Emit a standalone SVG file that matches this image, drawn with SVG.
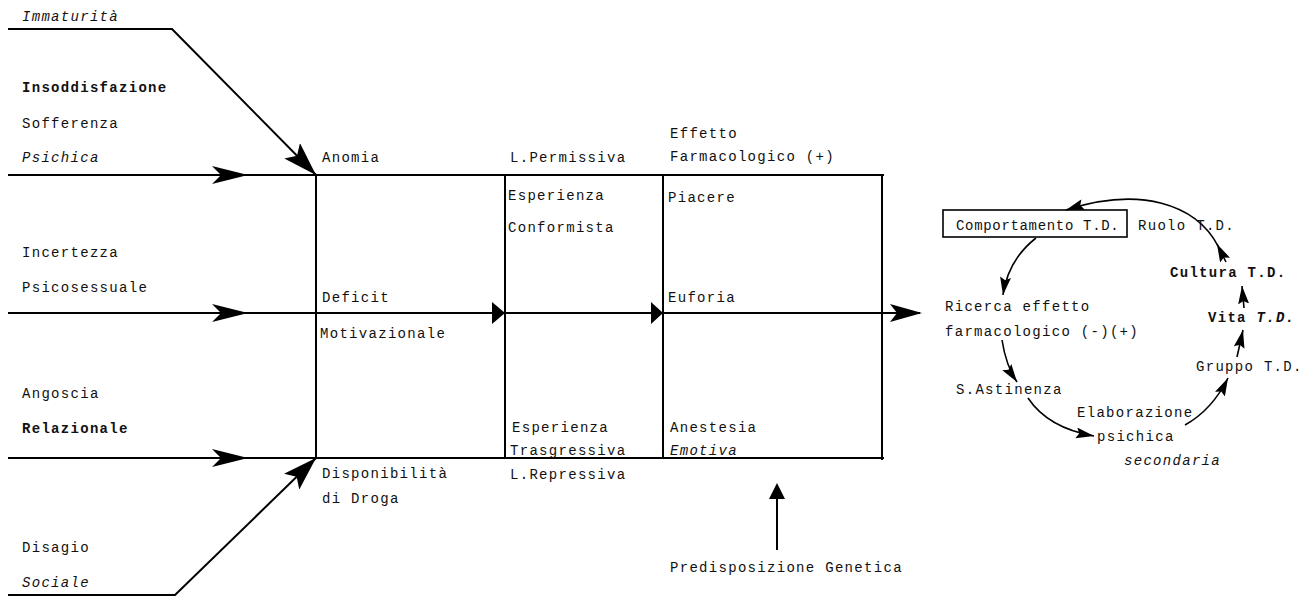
<svg xmlns="http://www.w3.org/2000/svg" width="1314" height="598" viewBox="0 0 1314 598">
<style>
text{font-family:"Liberation Mono","DejaVu Sans Mono",monospace;font-size:14px;letter-spacing:1.3px;fill:#111}
.b{font-weight:bold}
.i{font-style:italic}
.ln{fill:none;stroke:#000;stroke-width:2}
.lt{fill:none;stroke:#000;stroke-width:1.6}
.ah{fill:#000;stroke:none}
</style>
<defs>
<marker id="big" markerUnits="userSpaceOnUse" viewBox="0 0 34 22" refX="34" refY="11" markerWidth="34" markerHeight="22" orient="auto">
<path d="M0,0 L34,11 L0,22 L7,11 z" fill="#000"/>
</marker>
<marker id="sm" markerUnits="userSpaceOnUse" viewBox="0 0 18 11" refX="18" refY="5.5" markerWidth="18" markerHeight="11" orient="auto">
<path d="M0,0 L18,5.5 L0,11 L3,5.5 z" fill="#000"/>
</marker>
</defs>

<g id="connectors">
<polyline class="ln" points="8,29 172,29 316,175" marker-end="url(#big)"/>
<polyline class="ln" points="8,595 175,595 316,458" marker-end="url(#big)"/>
<line class="ln" x1="8" y1="175" x2="884" y2="175"/>
<line class="ln" x1="8" y1="313" x2="920" y2="313"/>
<line class="ln" x1="8" y1="458" x2="884" y2="458"/>
<line class="ln" x1="316" y1="175" x2="316" y2="458"/>
<line class="ln" x1="505" y1="176" x2="505" y2="458"/>
<line class="ln" x1="663" y1="176" x2="663" y2="459"/>
<line class="ln" x1="882" y1="176" x2="882" y2="460"/>
<path class="ah" d="M212,166 L248,175 L212,184 L221,175 z"/>
<path class="ah" d="M212,304 L248,313 L212,322 L221,313 z"/>
<path class="ah" d="M212,449 L248,458 L212,467 L221,458 z"/>
<path class="ah" d="M492,302 L505,313 L492,324 z"/>
<path class="ah" d="M651,302 L663,313 L651,324 z"/>
<path class="ah" d="M890,304 L922,313 L890,322 L897,313 z"/>
<line class="ln" x1="777" y1="550" x2="777" y2="496"/>
<path class="ah" d="M769,499 L777,483 L785,499 z"/>
<path class="lt" d="M1036,238 Q1008,260 1003,295" marker-end="url(#sm)"/>
<path class="lt" d="M1002,340 Q1006,366 1017,382" marker-end="url(#sm)"/>
<path class="lt" d="M1028,398 Q1048,428 1094,436" marker-end="url(#sm)"/>
<path class="lt" d="M1185,425 Q1212,410 1228,378" marker-end="url(#sm)"/>
<path class="lt" d="M1237,357 L1243,330" marker-end="url(#sm)"/>
<path class="lt" d="M1244,308 L1242,286" marker-end="url(#sm)"/>
<path class="lt" d="M1226,262 L1217,244" marker-end="url(#sm)"/>
<path class="lt" d="M1218,246 C1196,204 1140,186 1066,210" marker-end="url(#sm)"/>
</g>

<g id="n-immaturita"><text class="i" x="22" y="21">Immaturità</text></g>
<g id="n-insoddisfazione"><text class="b" x="22" y="92">Insoddisfazione</text><text x="22" y="128">Sofferenza</text><text class="i" x="22" y="162">Psichica</text></g>
<g id="n-incertezza"><text x="22" y="257">Incertezza</text><text x="22" y="292">Psicosessuale</text></g>
<g id="n-angoscia"><text x="22" y="398">Angoscia</text><text class="b" x="22" y="433">Relazionale</text></g>
<g id="n-disagio"><text x="22" y="552">Disagio</text><text class="i" x="22" y="587">Sociale</text></g>

<g id="n-anomia"><text x="322" y="162">Anomia</text></g>
<g id="n-deficit"><text x="322" y="302">Deficit</text><text x="320" y="338">Motivazionale</text></g>
<g id="n-disponibilita"><text x="322" y="478">Disponibilità</text><text x="322" y="503">di Droga</text></g>

<g id="n-permissiva"><text x="510" y="162">L.Permissiva</text></g>
<g id="n-conformista"><text x="508" y="200">Esperienza</text><text x="508" y="232">Conformista</text></g>
<g id="n-trasgressiva"><text x="512" y="432">Esperienza</text><text x="510" y="455">Trasgressiva</text></g>
<g id="n-repressiva"><text x="510" y="479">L.Repressiva</text></g>

<g id="n-effetto"><text x="670" y="138">Effetto</text><text x="670" y="161">Farmacologico (+)</text></g>
<g id="n-piacere"><text x="668" y="202">Piacere</text></g>
<g id="n-euforia"><text x="668" y="302">Euforia</text></g>
<g id="n-anestesia"><text x="670" y="432">Anestesia</text><text class="i" x="670" y="455">Emotiva</text></g>
<g id="n-predisposizione"><text x="670" y="572">Predisposizione Genetica</text></g>

<g id="n-comportamento"><rect x="943" y="210" width="184" height="27" fill="none" stroke="#000" stroke-width="1.6"/><text x="956" y="230" textLength="164" lengthAdjust="spacing">Comportamento T.D.</text></g>
<g id="n-ruolo"><text x="1138" y="230">Ruolo T.D.</text></g>
<g id="n-cultura"><text class="b" x="1170" y="277">Cultura T.D.</text></g>
<g id="n-vita"><text class="b" x="1208" y="322">Vita <tspan class="i">T.D.</tspan></text></g>
<g id="n-ricerca"><text x="945" y="311">Ricerca effetto</text><text x="945" y="336">farmacologico (-)(+)</text></g>
<g id="n-gruppo"><text x="1196" y="371">Gruppo T.D.</text></g>
<g id="n-astinenza"><text x="956" y="394">S.Astinenza</text></g>
<g id="n-elaborazione"><text x="1077" y="417">Elaborazione</text><text x="1097" y="441">psichica</text><text class="i" x="1124" y="465">secondaria</text></g>
</svg>
